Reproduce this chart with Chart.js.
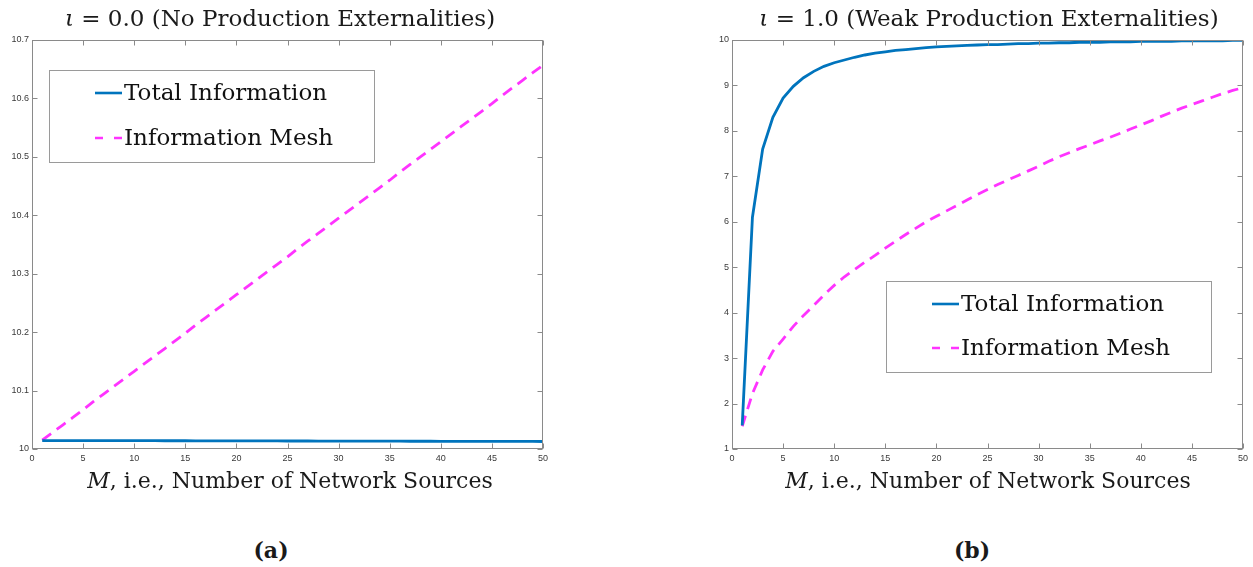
<!DOCTYPE html>
<html><head><meta charset="utf-8">
<script src="https://cdn.jsdelivr.net/npm/chart.js@4.4.1/dist/chart.umd.min.js"></script>
<style>
html,body{margin:0;padding:0;background:#fff;}
#wrap{position:relative;width:1253px;height:567px;overflow:hidden;background:#fff;}
#wrap canvas{position:absolute;top:0;}
.t{position:absolute;font-family:'DejaVu Serif',serif;color:#1a1a1a;white-space:nowrap;transform:translate(-50%,-50%);font-size:22px;}
.h{font-size:23px;}
.b{font-weight:bold;}
</style></head><body>
<div id="wrap">
<canvas id="cA" width="580" height="470" style="left:0px"></canvas>
<canvas id="cB" width="563" height="470" style="left:690px"></canvas>
<div class="t h" style="left:280px;top:18px"><i>ι</i> = 0.0 (No Production Externalities)</div>
<div class="t h" style="left:989px;top:18px"><i>ι</i> = 1.0 (Weak Production Externalities)</div>
<div class="t" style="left:290px;top:480px"><i>M</i>, i.e., Number of Network Sources</div>
<div class="t" style="left:988px;top:480px"><i>M</i>, i.e., Number of Network Sources</div>
<div class="t b" style="left:271px;top:550px">(a)</div>
<div class="t b" style="left:972px;top:550px">(b)</div>
</div>
<script>
// ---- data ----
const M = [1,2,3,4,5,6,7,8,9,10,11,12,13,14,15,16,17,18,19,20,21,22,23,24,25,26,27,28,29,30,31,32,33,34,35,36,37,38,39,40,41,42,43,44,45,46,47,48,49,50];
const seriesNames = ['Total Information', 'Information Mesh'];
// panel (a): iota = 0.0
const totalA = [10.0145,10.0145,10.0145,10.0144,10.0144,10.0144,10.0143,10.0143,10.0143,10.0142,10.0142,10.0142,10.0141,10.0141,10.0141,10.0140,10.0140,10.0140,10.0139,10.0139,10.0139,10.0138,10.0138,10.0138,10.0137,10.0137,10.0137,10.0136,10.0136,10.0136,10.0135,10.0135,10.0135,10.0134,10.0134,10.0134,10.0133,10.0133,10.0133,10.0132,10.0132,10.0132,10.0131,10.0131,10.0131,10.0130,10.0130,10.0129,10.0129,10.0128];
const meshA = [10.015,10.028,10.041,10.054,10.067,10.081,10.094,10.107,10.120,10.133,10.146,10.159,10.172,10.185,10.198,10.212,10.225,10.238,10.251,10.264,10.277,10.290,10.303,10.316,10.329,10.343,10.356,10.369,10.382,10.395,10.408,10.421,10.434,10.447,10.460,10.474,10.487,10.500,10.513,10.526,10.539,10.552,10.565,10.578,10.591,10.605,10.618,10.631,10.644,10.657];
// panel (b): iota = 1.0
const totalB = [1.52,6.1,7.6,8.3,8.72,8.98,9.17,9.31,9.42,9.5,9.56,9.62,9.67,9.71,9.74,9.77,9.79,9.81,9.83,9.85,9.86,9.87,9.88,9.89,9.9,9.9,9.91,9.92,9.92,9.93,9.93,9.94,9.94,9.95,9.95,9.95,9.96,9.96,9.96,9.97,9.97,9.97,9.97,9.98,9.98,9.98,9.98,9.98,9.99,9.99];
const meshB = [1.5,2.22,2.74,3.15,3.42,3.7,3.94,4.16,4.39,4.6,4.79,4.95,5.11,5.26,5.42,5.57,5.72,5.86,6.0,6.12,6.24,6.36,6.48,6.6,6.71,6.82,6.92,7.02,7.12,7.22,7.33,7.43,7.52,7.61,7.69,7.78,7.86,7.95,8.04,8.13,8.22,8.32,8.41,8.5,8.58,8.66,8.74,8.82,8.89,8.95];
const xTicks = [0,5,10,15,20,25,30,35,40,45,50];
const yTicksA = [10,10.1,10.2,10.3,10.4,10.5,10.6,10.7];
const yTicksB = [1,2,3,4,5,6,7,8,9,10];

// ---- styling ----
const BLUE = '#0074BD';
const MAGENTA = '#FF33FF';
const AXIS = '#8a8a8a';

const matlabPlugin = {
  id: 'matlabBox',
  afterDatasetsDraw(chart, args, opts) {
    const {ctx, chartArea: a, scales: {x, y}} = chart;
    ctx.save();
    ctx.strokeStyle = AXIS;
    ctx.lineWidth = 1;
    const L = Math.round(a.left) + 0.5, R = Math.round(a.right) - 0.5;
    const T = Math.round(a.top) + 0.5, B = Math.round(a.bottom) - 0.5;
    ctx.strokeRect(L, T, R - L, B - T);
    const tl = 5;
    ctx.beginPath();
    x.ticks.forEach(t => {
      const px = Math.round(x.getPixelForValue(t.value)) + 0.5;
      ctx.moveTo(px, B); ctx.lineTo(px, B - tl);
      ctx.moveTo(px, T); ctx.lineTo(px, T + tl);
    });
    y.ticks.forEach(t => {
      const py = Math.round(y.getPixelForValue(t.value)) + 0.5;
      ctx.moveTo(L, py); ctx.lineTo(L + tl, py);
      ctx.moveTo(R, py); ctx.lineTo(R - tl, py);
    });
    ctx.stroke();
    // legend
    const lg = opts.legend;
    if (lg) {
      ctx.fillStyle = '#fff';
      ctx.fillRect(lg.x1, lg.y1, lg.x2 - lg.x1, lg.y2 - lg.y1);
      ctx.strokeStyle = '#9a9a9a';
      ctx.lineWidth = 1;
      ctx.strokeRect(Math.round(lg.x1) + 0.5, Math.round(lg.y1) + 0.5, lg.x2 - lg.x1, lg.y2 - lg.y1);
      ctx.font = '23px "DejaVu Serif"';
      ctx.textBaseline = 'middle';
      ctx.textAlign = 'left';
      chart.data.datasets.forEach((ds, i) => {
        const ry = lg.rows[i];
        ctx.strokeStyle = ds.borderColor;
        ctx.lineWidth = 2.6;
        ctx.setLineDash(ds.borderDash && ds.borderDash.length ? [8, 11] : []);
        ctx.beginPath();
        ctx.moveTo(lg.sx1, ry); ctx.lineTo(lg.sx2, ry);
        ctx.stroke();
        ctx.setLineDash([]);
        ctx.fillStyle = '#111';
        ctx.fillText(ds.label, lg.tx, ry + 1);
      });
    }
    ctx.restore();
  }
};

function makeChart(id, total, mesh, yTicks, yMin, yMax, yWidth, padRight, legend) {
  const pts = arr => M.map((m, i) => ({x: m, y: arr[i]}));
  return new Chart(document.getElementById(id), {
    type: 'line',
    data: {
      datasets: [
        {label: seriesNames[0], data: pts(total), borderColor: BLUE, borderWidth: 2.8, pointRadius: 0, tension: 0, fill: false},
        {label: seriesNames[1], data: pts(mesh), borderColor: MAGENTA, borderWidth: 2.8, borderDash: [11, 7], pointRadius: 0, tension: 0, fill: false}
      ]
    },
    options: {
      responsive: false,
      animation: false,
      layout: {padding: {top: 40, right: padRight, bottom: 0, left: 0}},
      plugins: {legend: {display: false}, title: {display: false}, tooltip: {enabled: false},
        matlabBox: {legend: legend}},
      scales: {
        x: {
          type: 'linear', min: 0, max: 50,
          afterBuildTicks: s => { s.ticks = xTicks.map(v => ({value: v})); },
          afterFit: s => { s.height = 21; },
          grid: {display: false, drawTicks: false},
          border: {display: false},
          ticks: {padding: 4, color: '#3a3a3a', font: {family: 'Liberation Sans', size: 9}, maxRotation: 0, callback: v => String(v)}
        },
        y: {
          type: 'linear', min: yMin, max: yMax,
          afterBuildTicks: s => { s.ticks = yTicks.map(v => ({value: v})); },
          afterFit: s => { s.width = yWidth; },
          grid: {display: false, drawTicks: false},
          border: {display: false},
          ticks: {padding: 3, color: '#3a3a3a', font: {family: 'Liberation Sans', size: 9}, callback: v => String(v)}
        }
      }
    },
    plugins: [matlabPlugin]
  });
}

makeChart('cA', totalA, meshA, yTicksA, 10, 10.7, 32, 37,
  {x1: 49, y1: 70, x2: 374, y2: 162, sx1: 95, sx2: 122, tx: 124, rows: [93, 138]});
makeChart('cB', totalB, meshB, yTicksB, 1, 10, 42, 10,
  {x1: 196, y1: 281, x2: 521, y2: 372, sx1: 242, sx2: 269, tx: 271, rows: [304, 348]});
</script>
</body></html>
